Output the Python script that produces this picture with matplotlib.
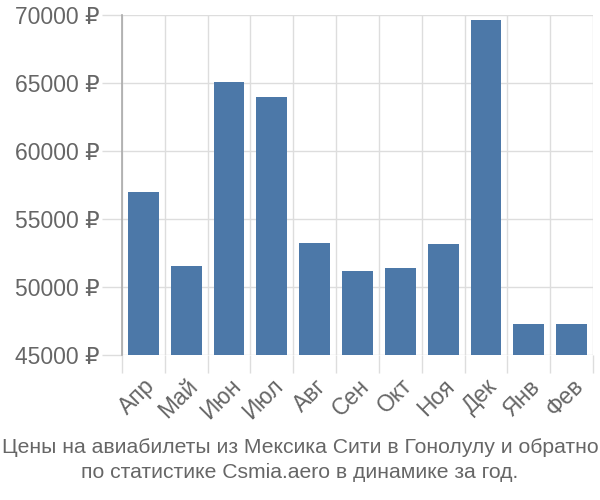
import matplotlib
matplotlib.use("Agg")
import matplotlib.pyplot as plt

months = ["Апр", "Май", "Июн", "Июл", "Авг", "Сен", "Окт", "Ноя", "Дек", "Янв", "Фев"]
prices = [57000, 51550, 65100, 63950, 53230, 51180, 51400, 53150, 69600, 47300, 47300]
yticks = [45000, 50000, 55000, 60000, 65000, 70000]
title = "Цены на авиабилеты из Мексика Сити в Гонолулу и обратно\nпо статистике Csmia.aero в динамике за год."

plt.rcParams['font.family'] = ['Liberation Sans', 'DejaVu Sans']

fig = plt.figure(figsize=(6, 5), dpi=100)
ax = fig.add_axes([122/600, 145/500, 471/600, 340/500])

x = list(range(len(months)))
ax.bar(x, prices, width=0.72, color="#4c78a8", zorder=3)

ax.set_xlim(-0.5, len(months) - 0.5)
ax.set_ylim(45000, 70000)
ax.set_yticks(yticks)
ax.set_yticklabels([f"{v} ₽" for v in yticks], fontsize=16.5, color="#666666")

ax.set_xticks([i - 0.5 for i in range(len(months) + 1)], minor=False)
ax.set_xticklabels([""] * (len(months) + 1))
ax.set_xticks(x, minor=True)
ax.set_xticklabels(months, minor=True, rotation=45, ha="right", va="top",
                   rotation_mode="anchor", fontsize=16.5, color="#666666")
ax.tick_params(axis="x", which="minor", length=0, pad=14)
ax.tick_params(axis="x", which="major", length=13, color="#dddddd", width=1)
ax.tick_params(axis="y", length=14.4, color="#dddddd", width=1, pad=2)

ax.grid(True, which="major", color="#dddddd", linewidth=1, zorder=0)
for s in ["top", "right", "bottom"]:
    ax.spines[s].set_visible(False)
ax.spines["left"].set_color("#aaaaaa")
ax.spines["left"].set_linewidth(1.2)

fig.text(0.5, 0.08, title, ha="center", va="center", fontsize=15.2,
         color="#666666", linespacing=1.45)

fig.savefig("out.png", dpi=100)
